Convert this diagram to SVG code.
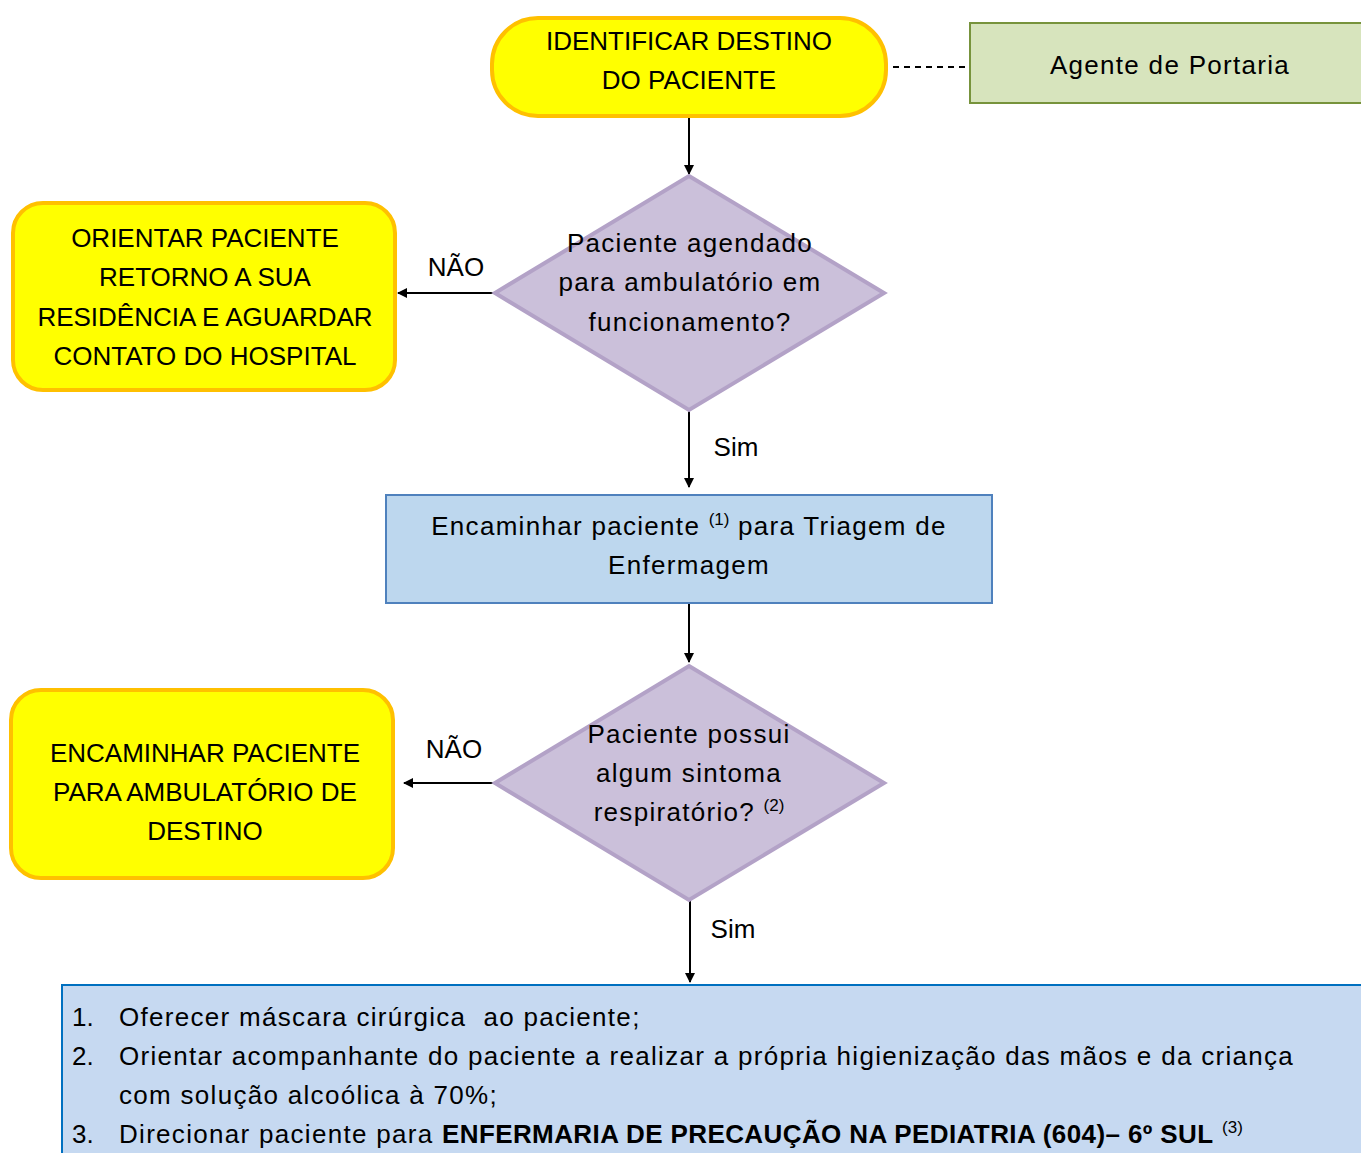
<svg xmlns="http://www.w3.org/2000/svg" width="1361" height="1153" viewBox="0 0 1361 1153">
<defs>
<style>
text{font-family:"Liberation Sans",Arial,sans-serif;font-size:26px;fill:#000}
.c{text-anchor:middle}
.m{letter-spacing:1.3px}
.sup{font-size:17px;letter-spacing:0}
.b{font-weight:bold;letter-spacing:0.4px}
.term{fill:#FFFF00;stroke:#FFC000;stroke-width:4}
.dec{fill:#CBC0DA;stroke:#B3A2C7;stroke-width:4}
.proc{fill:#BDD7EE;stroke:#4F81BD;stroke-width:2}
.conn{stroke:#000;stroke-width:2;fill:none}
</style>
<marker id="ah" markerWidth="10" markerHeight="10" refX="9" refY="5" orient="auto" markerUnits="userSpaceOnUse">
<path d="M0,0 L10,5 L0,10 z" fill="#000"/>
</marker>
</defs>
<rect width="1361" height="1153" fill="#fff"/>
<g id="connectors">
<line class="conn" x1="893" y1="67" x2="970" y2="67" stroke-dasharray="6,5"/>
<line class="conn" x1="689" y1="117" x2="689" y2="174" marker-end="url(#ah)"/>
<line class="conn" x1="495" y1="293" x2="398" y2="293" marker-end="url(#ah)"/>
<line class="conn" x1="689" y1="410" x2="689" y2="487" marker-end="url(#ah)"/>
<line class="conn" x1="689" y1="604" x2="689" y2="662" marker-end="url(#ah)"/>
<line class="conn" x1="495" y1="783" x2="404" y2="783" marker-end="url(#ah)"/>
<line class="conn" x1="690" y1="900" x2="690" y2="982" marker-end="url(#ah)"/>
<text x="456" y="276" class="c">NÃO</text>
<text x="736" y="456" class="c">Sim</text>
<text x="454" y="758" class="c">NÃO</text>
<text x="733" y="938" class="c">Sim</text>
</g>
<g id="n-identificar">
<rect class="term" x="492" y="18" width="394" height="98" rx="46"/>
<text x="689" y="50" class="c">IDENTIFICAR DESTINO</text>
<text x="689" y="89" class="c">DO PACIENTE</text>
</g>
<g id="n-agente">
<rect x="970" y="23" width="400" height="80" fill="#D7E4BD" stroke="#77933C" stroke-width="2"/>
<text x="1170" y="74" class="c m">Agente de Portaria</text>
</g>
<g id="n-decisao1">
<polygon class="dec" points="689,176 884,293 689,410 495,293"/>
<text x="690" y="252" class="c m">Paciente agendado</text>
<text x="690" y="291" class="c m">para ambulatório em</text>
<text x="690" y="331" class="c m">funcionamento?</text>
</g>
<g id="n-orientar">
<rect class="term" x="13" y="203" width="382" height="187" rx="30"/>
<text x="205" y="247" class="c">ORIENTAR PACIENTE</text>
<text x="205" y="286" class="c">RETORNO A SUA</text>
<text x="205" y="326" class="c">RESIDÊNCIA E AGUARDAR</text>
<text x="205" y="365" class="c">CONTATO DO HOSPITAL</text>
</g>
<g id="n-triagem">
<rect class="proc" x="386" y="495" width="606" height="108"/>
<text x="689" y="535" class="c m">Encaminhar paciente <tspan class="sup" dy="-10">(1)</tspan><tspan dy="10"> para Triagem de</tspan></text>
<text x="689" y="574" class="c m">Enfermagem</text>
</g>
<g id="n-decisao2">
<polygon class="dec" points="689,666 884,783 689,900 495,783"/>
<text x="689" y="743" class="c m">Paciente possui</text>
<text x="689" y="782" class="c m">algum sintoma</text>
<text x="689" y="821" class="c m">respiratório? <tspan class="sup" dy="-10">(2)</tspan></text>
</g>
<g id="n-encaminhar">
<rect class="term" x="11" y="690" width="382" height="188" rx="30"/>
<text x="205" y="762" class="c">ENCAMINHAR PACIENTE</text>
<text x="205" y="801" class="c">PARA AMBULATÓRIO DE</text>
<text x="205" y="840" class="c">DESTINO</text>
</g>
<g id="n-precaucao">
<rect x="62" y="985" width="1310" height="180" fill="#C6D9F1" stroke="#0070C0" stroke-width="2"/>
<text x="72" y="1026">1.</text>
<text x="119" y="1026" class="m">Oferecer máscara cirúrgica&#160; ao paciente;</text>
<text x="72" y="1065">2.</text>
<text x="119" y="1065" class="m">Orientar acompanhante do paciente a realizar a própria higienização das mãos e da criança</text>
<text x="119" y="1104" class="m">com solução alcoólica à 70%;</text>
<text x="72" y="1143">3.</text>
<text x="119" y="1143" class="m">Direcionar paciente para <tspan class="b">ENFERMARIA DE PRECAUÇÃO NA PEDIATRIA (604)– 6º SUL</tspan> <tspan class="sup" dy="-10">(3)</tspan></text>
</g>
</svg>
